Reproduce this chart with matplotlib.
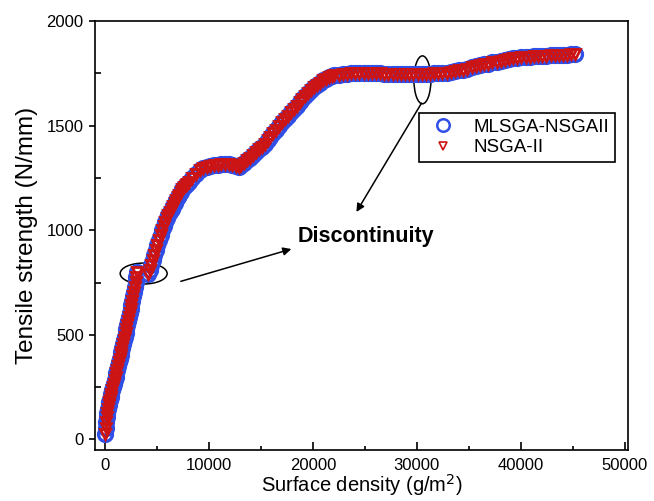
import numpy as np
import matplotlib
matplotlib.use("Agg")
import matplotlib.pyplot as plt
from matplotlib.patches import Ellipse
from matplotlib.ticker import MultipleLocator

plt.rcParams['font.family'] = ['Liberation Sans', 'DejaVu Sans']

# Pareto front: surface density (g/m2) vs tensile strength (N/mm)
front_x = [
    0, 50, 100, 150, 200, 260, 320, 380, 450, 520, 600, 680, 760, 840, 920,
    1000, 1080, 1160, 1240, 1320, 1400, 1480, 1560, 1640, 1720, 1800, 1880, 1960,
    2040, 2120, 2200, 2280, 2360, 2440, 2520, 2600, 2680, 2760, 2840, 2920, 3000, 3080,
    4130, 4280, 4430, 4580, 4730, 4880, 5030, 5180, 5330, 5480, 5630, 5780, 5930,
    6080, 6230, 6380, 6530, 6680, 6830, 6980, 7130, 7280, 7430, 7580, 7730, 7880, 8030,
    8380, 8730, 9080, 9430, 9780, 10130, 10480, 10830, 11180, 11530, 11880, 12230,
    12600, 12850, 13100, 13380, 13660, 13940, 14220, 14500, 14780, 15060, 15340,
    15620, 15900, 16180, 16460, 16740, 17020, 17300, 17580, 17860, 18140, 18420,
    18700, 18980, 19260, 19540, 19820, 20100, 20380, 20660, 20940, 21220, 21500,
    21780, 22060, 22460, 22860, 23260, 23660, 24060, 24460, 24860, 25260, 25660,
    26060, 26460, 26860, 27260, 27660, 28060, 28460, 28860, 29260, 29660, 30060,
    30460, 30860, 31260, 31660, 32060, 32460, 32860, 33260, 33660, 34060, 34460,
    34860, 35260, 35660, 36060, 36460, 36860, 37260, 37660, 38060, 38460, 38860,
    39260, 39660, 40060, 40460, 40860, 41260, 41660, 42060, 42460, 42860, 43260,
    43660, 44060, 44460, 44860, 45200,
]
mlsga_y = [
    24, 55, 82, 105, 125, 147, 164, 177, 190, 203, 219, 235, 250, 266, 282,
    299, 316, 333, 351, 368, 385, 403, 420, 437, 455, 474, 492, 511,
    530, 548, 567, 585, 604, 624, 644, 664, 684, 706, 729, 752, 776, 800,
    790, 812, 835, 858, 882, 905, 929, 952, 976, 1000, 1020, 1040, 1057,
    1073, 1088, 1103, 1117, 1131, 1144, 1157, 1170, 1183, 1195, 1205, 1214, 1222, 1230,
    1250, 1270, 1286, 1296, 1303, 1308, 1311, 1314, 1316, 1318, 1318, 1312,
    1306, 1303, 1312, 1322, 1334, 1346, 1358, 1372, 1386, 1399, 1414,
    1430, 1446, 1463, 1480, 1498, 1516, 1533, 1548, 1563, 1579, 1595,
    1611, 1627, 1642, 1656, 1670, 1683, 1695, 1706, 1716, 1724, 1731,
    1736, 1740, 1744, 1747, 1749, 1750, 1751, 1752, 1752, 1752, 1751,
    1751, 1750, 1749, 1749, 1748, 1747, 1747, 1746, 1746, 1746, 1746,
    1747, 1748, 1749, 1750, 1751, 1752, 1754, 1757, 1760, 1764, 1768,
    1773, 1778, 1783, 1788, 1793, 1797, 1802, 1806, 1810, 1814, 1818,
    1821, 1824, 1826, 1828, 1830, 1831, 1833, 1834, 1835, 1836, 1837,
    1838, 1839, 1840, 1841, 1842,
]
# NSGA-II lies on top of the MLSGA front
nsga_y = list(mlsga_y)

fig = plt.figure(figsize=(6.54, 5.01), dpi=100)
ax = fig.add_axes([0.145, 0.102, 0.815, 0.856])

ax.plot(front_x, mlsga_y, 'o', ls='none', ms=10, mfc='white', mec='#2f4fe6',
        mew=2.4, label='MLSGA-NSGAII')
ax.plot(front_x, nsga_y, 'v', ls='none', ms=7, mfc='none', mec='#cc1414',
        mew=2.0, label='NSGA-II')

ax.set_xlim(-1000, 50300)
ax.set_ylim(-50, 2000)
ax.xaxis.set_major_locator(MultipleLocator(10000))
ax.xaxis.set_minor_locator(MultipleLocator(5000))
ax.yaxis.set_major_locator(MultipleLocator(500))
ax.yaxis.set_minor_locator(MultipleLocator(250))
ax.tick_params(axis='x', which='major', direction='in', length=6, width=1.2, labelsize=12, pad=6)
ax.tick_params(axis='x', which='minor', direction='in', length=3, width=1.2)
ax.tick_params(axis='y', which='major', direction='out', length=4, width=1.2, labelsize=12, pad=4)
ax.tick_params(axis='y', which='minor', direction='in', length=4, width=1.2)
for s in ax.spines.values():
    s.set_linewidth(1.2)

ax.set_xlabel('Surface density (g/m$^2$)', fontsize=14.5, labelpad=-1)
ax.set_ylabel('Tensile strength (N/mm)', fontsize=17.5, labelpad=6)

# discontinuity markers
ax.add_patch(Ellipse((3700, 793), 4520, 100, fill=False, ec='black', lw=1.1))
ax.add_patch(Ellipse((30530, 1719), 1635, 229, fill=False, ec='black', lw=1.1))
ax.text(18560, 971, 'Discontinuity', fontsize=15.5, fontweight='bold', va='center', ha='left')
ax.annotate('', xy=(18170, 914), xytext=(7020, 752),
            arrowprops=dict(arrowstyle='-|>', color='black', lw=1.1, mutation_scale=12))
ax.annotate('', xy=(24040, 1076), xytext=(30580, 1619),
            arrowprops=dict(arrowstyle='-|>', color='black', lw=1.1, mutation_scale=12))

leg = ax.legend(loc='upper left', bbox_to_anchor=(0.608, 0.786), borderaxespad=0,
                fontsize=13.5, fancybox=False, edgecolor='black', framealpha=1,
                handletextpad=0.6, borderpad=0.3, labelspacing=0.2)
leg.get_frame().set_linewidth(1.2)
leg.legend_handles[0].set_markersize(9)
leg.legend_handles[0].set_markeredgewidth(1.8)
leg.legend_handles[1].set_markersize(6)
leg.legend_handles[1].set_markeredgewidth(1.2)

fig.savefig('out.png', dpi=100)
